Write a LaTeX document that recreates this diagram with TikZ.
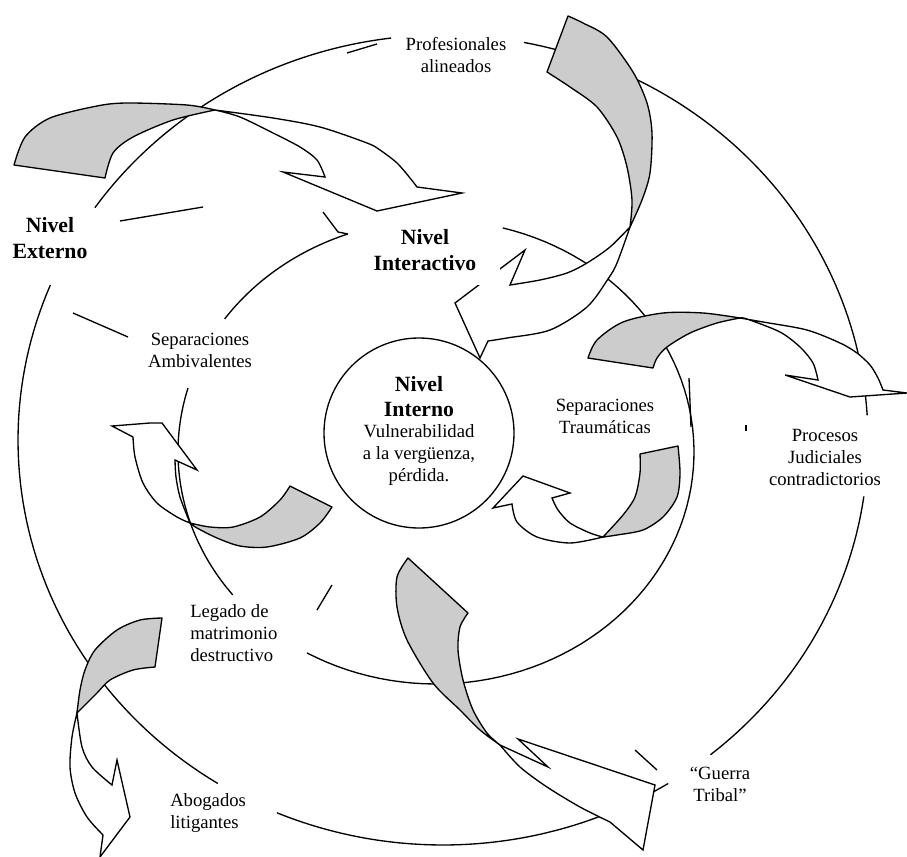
\documentclass[tikz,border=0pt]{standalone}
\usepackage{fontspec}
\setmainfont{Liberation Serif}
\begin{document}
\begin{tikzpicture}[x=0.75pt, y=-0.75pt,
		ring/.style={line width=1pt},
		band/.style={draw, fill=black!20, line width=1pt, line join=round},
		head/.style={draw, fill=white, line width=1pt},
		lbl/.style={align=center, inner sep=0pt, font=\fontsize{14}{16.5}\selectfont},
		lvl/.style={align=center, inner sep=0pt, font=\fontsize{16.3}{20}\selectfont\bfseries}]
	\useasboundingbox (0,0) rectangle (907,857);
	\foreach \a/\b in {97/145, 157.5/238, 247/302, -51/-8, 3.5/79}
		\draw[ring] plot[domain=\a:\b, samples=60] ({443+425*cos(\x)}, {440-405*sin(\x)});
	\foreach \a/\b in {110/145, 164/218, -120/75}
		\draw[ring] plot[domain=\a:\b, samples=80] ({436+258*cos(\x)}, {452-232*sin(\x)});
	\draw[ring] (347,53) -- (377,44);
	\draw[ring] (120,221) -- (203,207);
	\draw[ring] (73,313) -- (128,337);
	\draw[ring] (323,212) -- (338,232) -- (348,234);
	\draw[ring] (317,610) -- (332,585);
	\draw[ring] (635,750) -- (657,770);
	\draw[ring] (689,378) -- (691,427);
	\draw[ring] (746,425) -- (746,431);
	\draw[band] (14,165) -- plot[smooth] coordinates {(105,178) (113,153) (133,137) (173,120) (215,110)} -- plot[smooth] coordinates {(215,110) (187,105) (127,103) (97,106) (50,118) (25,137) (14,165)} -- cycle;
	\draw[head] plot[smooth] coordinates {(215,110) (240,117) (273,133) (300,147) (317,160) (325,177)} -- (283,172) -- (377,211) -- (462,193) -- plot[smooth] coordinates {(417,187) (410,178) (397,163) (380,150) (367,143) (320,127) (273,118) (215,110)} -- cycle;
	\draw[band] (547,72) -- plot[smooth] coordinates {(568,16) (583,23) (607,37) (633,72) (647,103) (652,133) (650,173) (642,200) (630,227)} -- plot[smooth] coordinates {(630,227) (632,200) (627,167) (617,137) (597,107) (570,87) (547,72)} -- cycle;
	\draw[head] plot[smooth] coordinates {(630,227) (610,247) (587,263) (567,273) (540,280) (510,285)} -- (525,250) -- (455,303) -- (480,358) -- plot[smooth] coordinates {(488,341) (507,338) (550,330) (587,307) (608,279) (617,263) (630,227)} -- cycle;
	\draw[band] (653,368) -- plot[smooth] coordinates {(588,358) (597,340) (623,322) (663,313) (703,313) (740,318)} -- plot[smooth] coordinates {(740,318) (717,323) (690,333) (667,347) (657,358) (653,368)} -- cycle;
	\draw[head] plot[smooth] coordinates {(740,318) (747,319) (780,332) (800,347) (813,363) (818,380)} -- (785,375) -- (850,397) -- (907,393) -- plot[smooth] coordinates {(883,390) (878,378) (870,365) (857,353) (840,343) (807,330) (763,322) (740,318)} -- cycle;
	\draw[band] (640,454) -- plot[smooth] coordinates {(678,446) (680,473) (677,497) (663,517) (643,530) (617,535) (603,537)} -- plot[smooth] coordinates {(603,537) (623,515) (635,497) (640,473) (640,454)} -- cycle;
	\draw[head] plot[smooth] coordinates {(603,537) (570,543) (537,537) (517,522) (512,504)} -- (493,508) -- (523,476) -- (570,493) -- plot[smooth] coordinates {(552,498) (558,510) (570,523) (590,533) (603,537)} -- cycle;
	\draw[band] (332,507) -- plot[smooth] coordinates {(290,486) (280,500) (260,517) (233,527) (210,527) (190,523)} -- plot[smooth] coordinates {(190,523) (197,528) (217,538) (240,546) (267,547) (300,538) (320,523) (332,507)} -- cycle;
	\draw[head] plot[smooth] coordinates {(190,523) (177,517) (157,503) (143,483) (135,457) (133,437)} -- (112,426) -- (150,423) -- (162,423) -- (197,470) -- plot[smooth] coordinates {(175,460) (176,477) (180,497) (190,523)} -- cycle;
	\draw[band] (155,667) -- plot[smooth] coordinates {(162,618) (140,620) (117,630) (95,650) (85,670) (80,690) (77,713)} -- plot[smooth] coordinates {(77,713) (83,707) (97,693) (110,680) (133,670) (155,667)} -- cycle;
	\draw[head] plot[smooth] coordinates {(77,713) (72,737) (70,767) (75,793) (87,817) (103,835)} -- (100,857) -- (130,817) -- (117,760) -- plot[smooth] coordinates {(112,785) (92,767) (82,747) (77,713)} -- cycle;
	\draw[band] (468,613) -- plot[smooth] coordinates {(408,558) (397,577) (397,607) (407,640) (433,683) (460,710) (480,730) (500,745)} -- plot[smooth] coordinates {(500,745) (487,733) (473,710) (463,680) (458,650) (460,627) (468,613)} -- cycle;
	\draw[head] plot[smooth] coordinates {(500,745) (520,767) (547,787) (580,807) (610,822)} -- (643,850) -- (655,785) -- (518,739) -- (548,767) -- cycle;
	\draw[ring] (419,433) circle[radius=95];
	\node[lbl] (profesionales) at (456,55) {Profesionales\\alineados};
	\node[lvl] (externo) at (50,238) {Nivel\\Externo};
	\node[lvl, fill=white, minimum width=112pt, minimum height=52pt] (interactivo) at (425,250) {Nivel\\Interactivo};
	\node[lbl] (ambivalentes) at (200,350) {Separaciones\\Ambivalentes};
	\node[lvl, font=\fontsize{16.3}{18.75}\selectfont\bfseries] (interno) at (419,397) {Nivel\\Interno};
	\node[lbl] (vulnerabilidad) at (419,455) {Vulnerabilidad\\a la vergüenza,\\pérdida.};
	\node[lbl] (traumaticas) at (605,416) {Separaciones\\Traumáticas};
	\node[lbl] (procesos) at (825,457) {Procesos\\Judiciales\\contradictorios};
	\node[lbl, align=left, anchor=west] (legado) at (190,633) {Legado de\\matrimonio\\destructivo};
	\node[lbl, align=left, anchor=west] (abogados) at (170,813) {Abogados\\litigantes};
	\node[lbl] (guerra) at (720,784) {“Guerra\\Tribal”};
\end{tikzpicture}
\end{document}
